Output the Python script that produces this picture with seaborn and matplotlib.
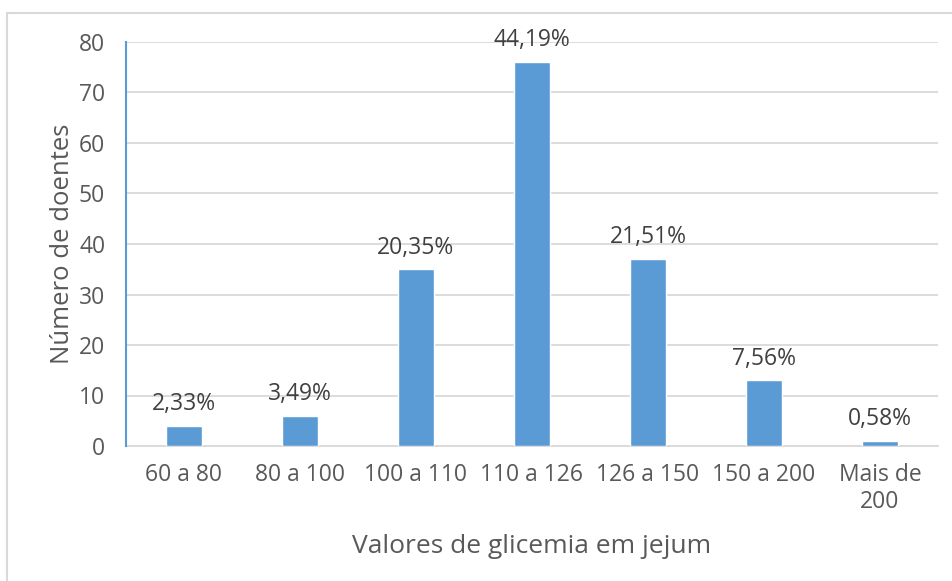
import matplotlib
matplotlib.use("Agg")
import matplotlib.pyplot as plt
from matplotlib.patches import Rectangle
import seaborn as sns
import pandas as pd

categories = ["60 a 80", "80 a 100", "100 a 110", "110 a 126", "126 a 150", "150 a 200", "Mais de\n200"]
doentes = [4, 6, 35, 76, 37, 13, 1]
percent_labels = ["2,33%", "3,49%", "20,35%", "44,19%", "21,51%", "7,56%", "0,58%"]
y_ticks = [0, 10, 20, 30, 40, 50, 60, 70, 80]

sns.set_theme(style="white")
plt.rcParams["font.family"] = ["Open Sans", "DejaVu Sans"]

BAR = "#5B9BD5"
GRID = "#D9D9D9"
TEXT = "#595959"

df = pd.DataFrame({"cat": categories, "n": doentes})

fig = plt.figure(figsize=(9.53, 5.81), dpi=100)
ax = fig.add_axes([126 / 953, 1 - 446 / 581, (938 - 126) / 953, (446 - 42) / 581])

sns.barplot(data=df, x="cat", y="n", color=BAR, saturation=1, width=0.31, ax=ax, zorder=3)

ax.set_ylim(0, 80)
ax.set_xlim(-0.5, len(categories) - 0.5)
ax.set_yticks(y_ticks)
ax.yaxis.grid(True, color=GRID, linewidth=1.3, zorder=0)
ax.set_axisbelow(True)

for side in ("top", "right"):
    ax.spines[side].set_visible(False)
ax.spines["left"].set_color(BAR)
ax.spines["left"].set_linewidth(1.5)
ax.spines["left"].set_zorder(4)
ax.spines["bottom"].set_color(GRID)
ax.spines["bottom"].set_linewidth(1.3)

ax.tick_params(axis="y", direction="in", length=6, width=1.3, color="#9DC3E6",
               labelsize=16.5, labelcolor=TEXT, pad=15)
ax.tick_params(axis="x", length=0, labelsize=16.5, labelcolor=TEXT, pad=12)

ax.set_xlabel("Valores de glicemia em jejum", fontsize=19, color=TEXT, labelpad=14)
ax.set_ylabel("Número de doentes", fontsize=18.5, color=TEXT, labelpad=3)

for i, (v, lab) in enumerate(zip(doentes, percent_labels)):
    ax.annotate(lab, xy=(i, v), xytext=(0, 7), textcoords="offset points",
                ha="center", va="bottom", fontsize=16.5, color="#404040")

frame = Rectangle((7 / 953, -0.1), 1.2, 1 - 13 / 581 + 0.1, transform=fig.transFigure,
                  fill=False, edgecolor=GRID, linewidth=1.5, clip_on=False)
fig.patches.append(frame)

fig.savefig("out.png", dpi=100, facecolor="white")
